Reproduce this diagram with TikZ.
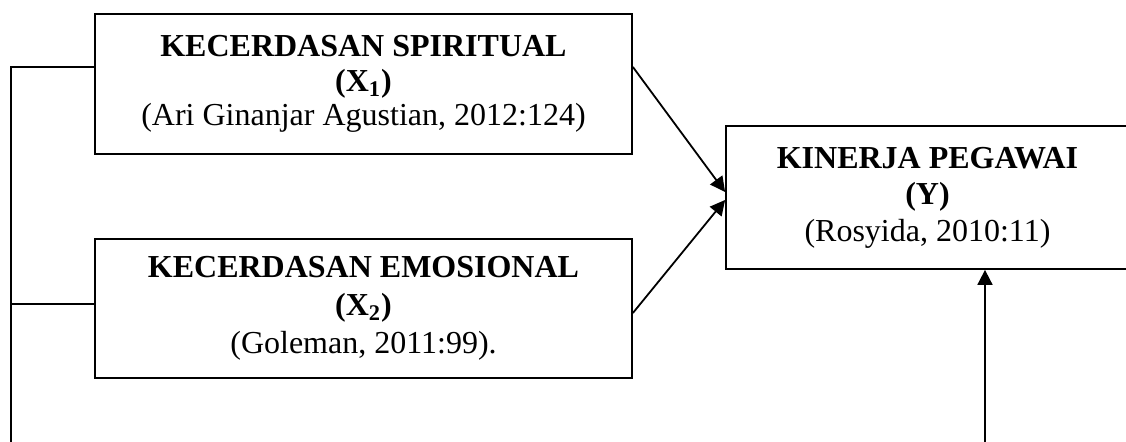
\documentclass[tikz,border=0pt]{standalone}
\usepackage{fontspec}
\setmainfont{Liberation Serif}
\usetikzlibrary{arrows.meta}
\begin{document}
\begin{tikzpicture}[x=0.5pt,y=-0.5pt,
  box/.style={draw,line width=0.9pt,inner sep=0pt,align=center},
  conn/.style={line width=0.9pt},
  arr/.style={line width=0.9pt,-{Triangle[length=7.5pt,width=7.5pt]}}]
\clip (0,0) rectangle (1126,442);
\node[box,minimum width=268.5pt,minimum height=70pt,font=\fontsize{16}{17.25}\selectfont] (x1) at (363.5,84)
  {\textbf{KECERDASAN SPIRITUAL}\\\textbf{(X\textsubscript{1})}\\(Ari Ginanjar Agustian, 2012:124)};
\node[box,minimum width=268.5pt,minimum height=69.5pt,font=\fontsize{16}{19}\selectfont] (x2) at (363.5,308.5)
  {\textbf{KECERDASAN EMOSIONAL}\\\textbf{(X\textsubscript{2})}\\(Goleman, 2011:99).};
\node[box,minimum width=201.5pt,minimum height=71.5pt,font=\fontsize{16}{18.25}\selectfont] (y) at (927.5,197.5)
  {\textbf{KINERJA PEGAWAI}\\\textbf{(Y)}\\(Rosyida, 2010:11)};
\coordinate (lt) at (11,67);
\coordinate (lm) at (11,304);
\coordinate (lb) at (11,442);
\coordinate (yb) at (985,442);
\draw[conn] (x1.west |- lt) -- (lt) -- (lb);
\draw[conn] (lm) -- (x2.west |- lm);
\draw[arr] (x1.east |- lt) -- ([yshift=2.75pt]y.west);
\draw[arr] ([yshift=-2.25pt]x2.east) -- ([yshift=-1.25pt]y.west);
\draw[arr] (yb) -- (yb |- y.south);
\end{tikzpicture}
\end{document}
